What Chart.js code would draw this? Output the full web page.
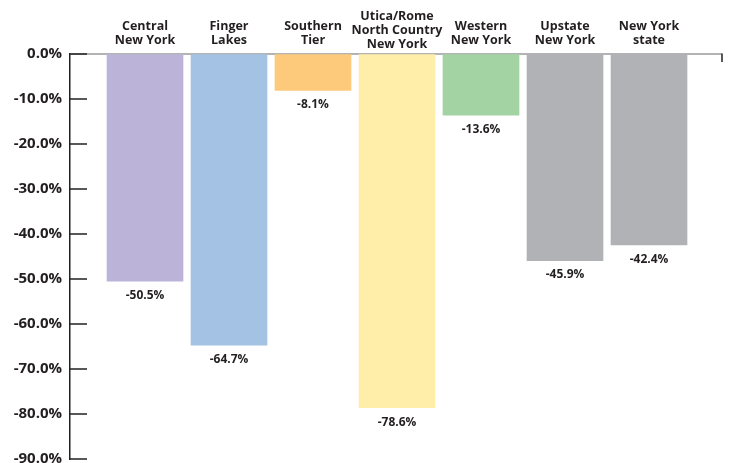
<!DOCTYPE html>
<html>
<head>
<meta charset="utf-8">
<script src="https://cdn.jsdelivr.net/npm/chart.js@4.4.0/dist/chart.umd.min.js"></script>
<style>
  html, body { margin: 0; padding: 0; background: #fff; }
  #wrap { width: 732px; height: 463px; }
</style>
</head>
<body>
<div id="wrap"><canvas id="Chart" width="732" height="463"></canvas></div>
<script>
// regions (label lines) and % change
const regions = [
    ["Central", "New York"],
    ["Finger", "Lakes"],
    ["Southern", "Tier"],
    ["Utica/Rome", "North Country", "New York"],
    ["Western", "New York"],
    ["Upstate", "New York"],
    ["New York", "state"]
]
const changes = [-50.5, -64.7, -8.1, -78.6, -13.6, -45.9, -42.4]
const barColors = ["#bbb4d8", "#a3c2e4", "#fdca7b", "#feeeaa", "#a3d3a3", "#b1b2b5", "#b1b2b5"]
const yTicks = [0, -10, -20, -30, -40, -50, -60, -70, -80, -90]

const textColor = "#231f20"
const fontFamily = "'Open Sans', 'Liberation Sans', sans-serif"

//draw zero line, inner tick marks, category names and value labels
const decorations = {
    id: "decorations",
    beforeDatasetsDraw(chart) {
        const ctx = chart.ctx
        const area = chart.chartArea
        const y = chart.scales.y
        const y0 = y.getPixelForValue(0)
        ctx.save()
        ctx.strokeStyle = "#9a9a9a"
        ctx.lineWidth = 1.5
        ctx.beginPath()
        ctx.moveTo(area.left, y0)
        ctx.lineTo(area.right, y0)
        ctx.stroke()
        ctx.strokeStyle = "#231f20"
        ctx.beginPath()
        ctx.moveTo(area.right, y0 - 0.5)
        ctx.lineTo(area.right, y0 + 8)
        ctx.stroke()
        ctx.restore()
    },
    afterDatasetsDraw(chart) {
        const ctx = chart.ctx
        const area = chart.chartArea
        const x = chart.scales.x
        const y = chart.scales.y
        ctx.save()
        ctx.strokeStyle = "#231f20"
        ctx.lineWidth = 1.5
        yTicks.forEach(t => {
            const py = y.getPixelForValue(t)
            ctx.beginPath()
            ctx.moveTo(area.left, py)
            ctx.lineTo(area.left + 17, py)
            ctx.stroke()
        })

        ctx.fillStyle = textColor
        ctx.textAlign = "center"
        ctx.textBaseline = "middle"
        ctx.font = "bold 12.5px " + fontFamily
        regions.forEach((lines, i) => {
            const px = x.getPixelForValue(i + 1)
            const lh = 14
            const top = 26.5 - (lines.length - 2) * 10
            lines.forEach((l, j) => ctx.fillText(l, px, top + j * lh))
        })

        ctx.font = "bold 12px " + fontFamily
        changes.forEach((v, i) => {
            const px = x.getPixelForValue(i + 1)
            const py = y.getPixelForValue(v)
            ctx.fillText(v.toFixed(1) + "%", px, py + 14.5)
        })
        ctx.restore()
    }
}

const ctx = document.getElementById("Chart").getContext("2d")
const myChart = new Chart(ctx, {
    type: "bar",
    data: {
        datasets: [{
            data: changes.map((v, i) => ({x: i + 1, y: v})),
            backgroundColor: barColors,
            borderWidth: 0,
            barThickness: 76
        }]
    },
    options: {
        responsive: false,
        animation: false,
        layout: {padding: {top: 54, right: 10, bottom: 4, left: 0}},
        plugins: {legend: {display: false}, tooltip: {enabled: false}},
        scales: {
            x: {
                type: "linear",
                display: false,
                offset: false,
                min: 0.107,
                max: 7.869
            },
            y: {
                min: -90,
                max: 0,
                afterFit: s => { s.width = 70; s.paddingTop = 0; s.paddingBottom = 0 },
                afterBuildTicks: s => { s.ticks = yTicks.map(v => ({value: v})) },
                grid: {display: true, drawOnChartArea: false, drawTicks: false},
                border: {display: true, color: "#231f20", width: 1.5},
                ticks: {
                    padding: 8,
                    color: textColor,
                    font: {family: fontFamily, size: 15, weight: "bold"},
                    callback: v => v.toFixed(1) + "%"
                }
            }
        }
    },
    plugins: [decorations]
})
</script>
</body>
</html>
